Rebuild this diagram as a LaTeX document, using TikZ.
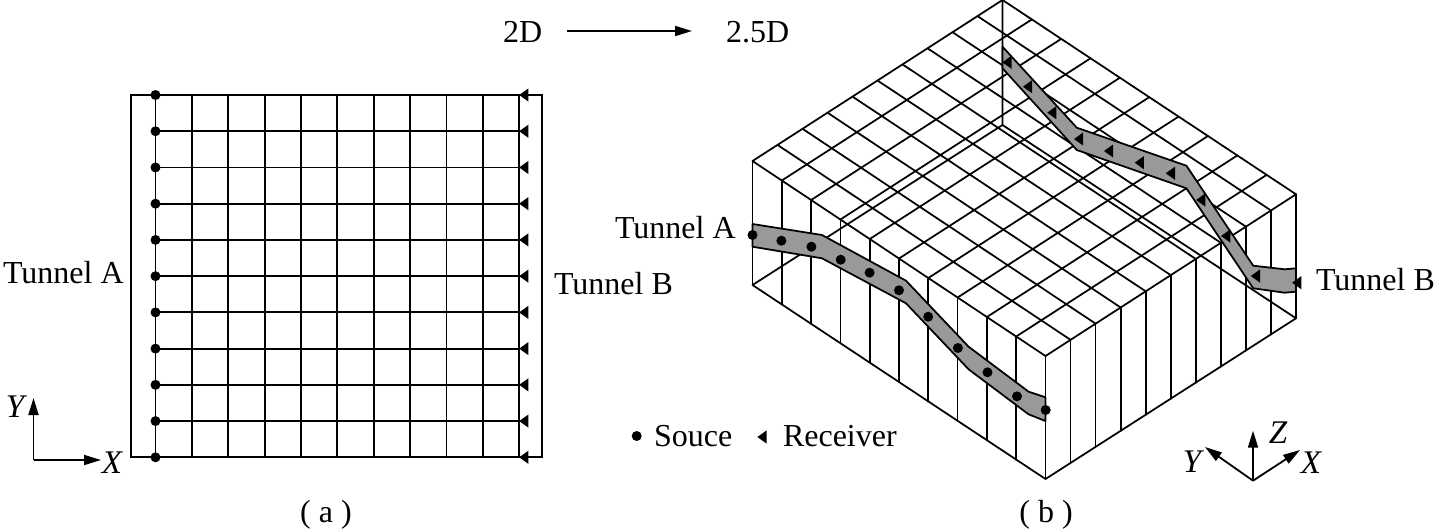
\documentclass[tikz,border=0pt]{standalone}
\usepackage{fontspec}
\setmainfont{Liberation Serif}
\usetikzlibrary{calc,arrows.meta}
\tikzset{
  lbl/.style={inner sep=0pt,outer sep=0pt,anchor=base west,font=\fontsize{32}{36}\selectfont},
  axlbl/.style={inner sep=0pt,outer sep=0pt,anchor=center,font=\fontsize{33}{36}\selectfont\itshape},
  gridline/.style={line width=1.75pt,line cap=round,line join=round},
  planline/.style={line width=1.85pt,line cap=butt,line join=miter},
  band/.style={fill=black!40,draw=black,line width=1.75pt,line join=round},
  arr/.style={line width=1.8pt,-{Stealth[length=17pt,width=10pt,inset=0pt]}},
  srcdot/.style={fill=black},
  recvtri/.style={fill=black}
}
\newcommand{\recvmark}[2]{\fill[recvtri] (#1,#2) +(-4.6,0) -- +(4.6,-6.6) -- +(4.6,6.6) -- cycle;}
\begin{document}
\begin{tikzpicture}[x=1pt,y=-1pt]
\useasboundingbox (0,0) rectangle (1437,531);

% ---------- panel (a)
\draw[planline] (131,95) rectangle (541.7,457.3);
\foreach \i in {0,...,10}{
  \draw[planline] ({155.5+36.38*\i},95) -- ({155.5+36.38*\i},457.3);
  \draw[planline] (155.5,{95+36.23*\i}) -- (519.3,{95+36.23*\i});
  \fill[srcdot] (155.5,{95+36.23*\i}) circle[radius=5pt];
  \pgfmathsetmacro{\yy}{95+36.23*\i}
  \recvmark{523.8}{\yy}
}
\node[lbl] (ta1) at (3,283) {Tunnel A};
\node[lbl] (tb1) at (554,294) {Tunnel B};
\node[lbl,anchor=base] (capa) at (326,522) {( a )};

\coordinate (o1) at (33.5,460);
\coordinate (y1) at (33.5,398);
\coordinate (x1) at (101,460);
\draw[arr] (o1) -- (y1);
\draw[arr] (o1) -- (x1);
\node[axlbl] (ylbl1) at (15,407) {Y};
\node[axlbl] (xlbl1) at (112,463) {X};

% ---------- top caption
\node[lbl] (d2) at (503,42) {2D};
\node[lbl] (d25) at (726,42) {2.5D};
\coordinate (ca) at (567.4,31);
\coordinate (cb) at (692,31);
\draw[arr] (ca) -- (cb);

% ---------- panel (b): corners
\coordinate (B) at (1002.5,0);
\coordinate (L) at (752.5,161);
\coordinate (R) at (1296,194.3);
\coordinate (F) at (1045.5,356);
\coordinate (Bb) at (1002.5,125);
\coordinate (Lb) at (752.5,285);
\coordinate (Rb) at (1296,318.3);
\coordinate (Fb) at (1045.5,479);

\draw[gridline] (B) -- (Bb) (Bb) -- (Lb) (Bb) -- (Rb);
\foreach \i in {0,...,10}{
  \draw[gridline] ($(B)!\i/10!(L)$) -- ($(R)!\i/10!(F)$);
  \draw[gridline] ($(B)!\i/10!(R)$) -- ($(L)!\i/10!(F)$);
  \draw[gridline] ($(L)!\i/10!(F)$) -- ($(Lb)!\i/10!(Fb)$);
  \draw[gridline] ($(F)!\i/10!(R)$) -- ($(Fb)!\i/10!(Rb)$);
}
\draw[gridline] (Lb) -- (Fb) -- (Rb);

% tunnel bands
\draw[band] (752.5,224) -- (822,235) -- (906,280.7) -- (968.6,346.7) -- (1028.6,391.7) -- (1045.4,397.3)
  -- (1045.4,421) -- (1028.6,414.3) -- (968.6,369.3) -- (906,303.3) -- (822,258.3) -- (752.5,246.7) -- cycle;
\draw[band] (1002.5,46.7) -- (1076.8,127.7) -- (1186.4,165.7) -- (1253.2,265.7) -- (1284.6,269.3) -- (1296,268.3)
  -- (1296,291.7) -- (1284.6,292.7) -- (1253.2,288.3) -- (1186.4,188.3) -- (1076.8,150) -- (1002.5,68.3) -- cycle;

\foreach \x/\y in {752.5/235,781.4/240.7,811.4/246.7,840.7/259.7,869.6/272.7,899/290.3,928.2/316.7,957.9/348,987.5/372.3,1017/396.3,1045.7/410}{
  \fill[srcdot] (\x,\y) circle[radius=5pt];
}
\foreach \x/\y in {1007/62.3,1027.5/86.7,1051.8/112.7,1078.6/139,1108.6/151,1139.3/162.7,1170.4/173.3,1200.7/200,1225.7/236,1255.4/276,1296.7/282.7}{
  \recvmark{\x}{\y}
}

\node[lbl] (ta2) at (615,238) {Tunnel A};
\node[lbl] (tb2) at (1316,290) {Tunnel B};
\node[lbl,anchor=base] (capb) at (1046,522) {( b )};

% legend
\fill[srcdot] (636.7,436) circle[radius=5pt];
\node[lbl] (src) at (654,446) {Souce};
\recvmark{762}{437}
\node[lbl] (rcv) at (783,446) {Receiver};

% axes (b)
\coordinate (o2) at (1253,480.7);
\coordinate (z2) at (1253,430.7);
\coordinate (y2) at (1205,447);
\coordinate (x2) at (1300,450);
\draw[arr] (o2) -- (z2);
\draw[arr] (o2) -- (y2);
\draw[arr] (o2) -- (x2);
\node[axlbl] (zlbl) at (1278,433) {Z};
\node[axlbl] (ylbl2) at (1192,462) {Y};
\node[axlbl] (xlbl2) at (1311,463) {X};
\end{tikzpicture}
\end{document}
